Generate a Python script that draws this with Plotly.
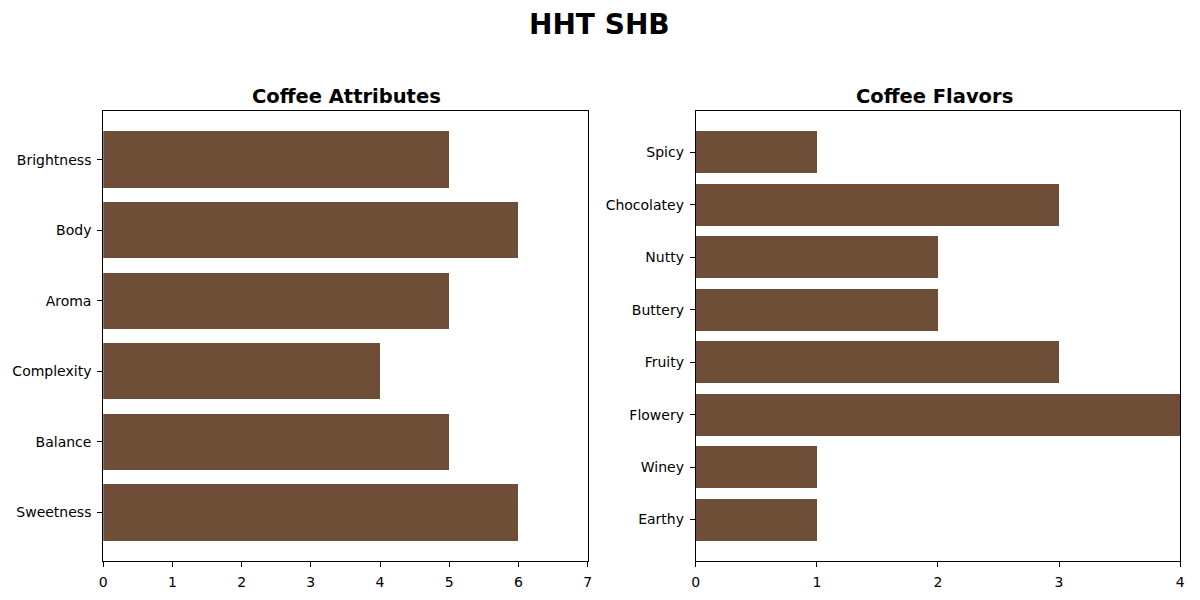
import plotly.graph_objects as go

attributes = ["Sweetness", "Balance", "Complexity", "Aroma", "Body", "Brightness"]
attribute_values = [6, 5, 4, 5, 6, 5]
flavors = ["Earthy", "Winey", "Flowery", "Fruity", "Buttery", "Nutty", "Chocolatey", "Spicy"]
flavor_values = [1, 1, 4, 3, 2, 2, 3, 1]
bar_color = "#6F4E37"
FONT = "DejaVu Sans"

fig = go.Figure()
fig.add_trace(go.Bar(y=list(range(len(attributes))), x=attribute_values, orientation="h",
                     width=0.8, marker=dict(color=bar_color, line=dict(width=0)),
                     xaxis="x", yaxis="y", showlegend=False))
fig.add_trace(go.Bar(y=list(range(len(flavors))), x=flavor_values, orientation="h",
                     width=0.8, marker=dict(color=bar_color, line=dict(width=0)),
                     xaxis="x2", yaxis="y2", showlegend=False))

ax_common = dict(showline=True, linecolor="black", linewidth=1, mirror=True,
                 ticks="outside", ticklen=5, tickcolor="black", tickwidth=1,
                 showgrid=False, zeroline=False, ticklabelstandoff=3,
                 tickfont=dict(family=FONT, size=14, color="black"))

y_top = 1 - 111 / 600
y_bot = 1 - 561 / 600

fig.update_layout(
    width=1200, height=600,
    margin=dict(l=0, r=0, t=0, b=0),
    paper_bgcolor="white", plot_bgcolor="white",
    bargap=0,
    xaxis=dict(domain=[100 / 1200, 588 / 1200], range=[0, 7], dtick=1, anchor="y", **ax_common),
    yaxis=dict(domain=[y_bot, y_top], range=[-0.69, 5.69], anchor="x",
               tickmode="array", tickvals=list(range(len(attributes))), ticktext=attributes,
               **ax_common),
    xaxis2=dict(domain=[697 / 1200, 1185 / 1200], range=[0, 4], dtick=1, anchor="y2", **ax_common),
    yaxis2=dict(domain=[y_bot, y_top], range=[-0.79, 7.79], anchor="x2",
                tickmode="array", tickvals=list(range(len(flavors))), ticktext=flavors,
                **ax_common),
    annotations=[
        dict(text="<b>HHT SHB</b>", x=0.5, y=1 - 25 / 600, xref="paper", yref="paper",
             showarrow=False, font=dict(family=FONT, size=28, color="black"),
             xanchor="center", yanchor="middle"),
        dict(text="<b>Coffee Attributes</b>", x=(103 + 588) / 2400, y=1 - 97 / 600,
             xref="paper", yref="paper", showarrow=False,
             font=dict(family=FONT, size=19.5, color="black"), xanchor="center", yanchor="middle"),
        dict(text="<b>Coffee Flavors</b>", x=(695 + 1181) / 2400, y=1 - 97 / 600,
             xref="paper", yref="paper", showarrow=False,
             font=dict(family=FONT, size=19.5, color="black"), xanchor="center", yanchor="middle"),
    ],
)

fig.write_html("out.html")
